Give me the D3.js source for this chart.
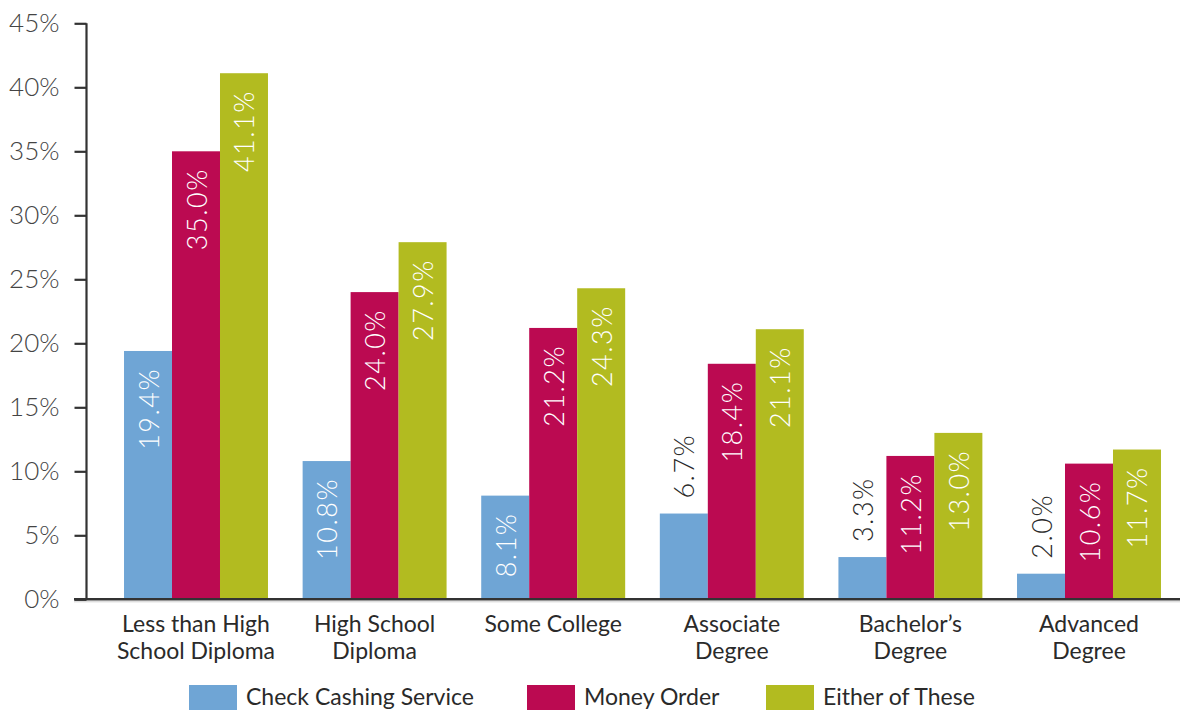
<!DOCTYPE html>
<html>
<head>
<meta charset="utf-8">
<script src="https://cdn.jsdelivr.net/npm/d3@7"></script>
<style>
  html, body { margin: 0; padding: 0; background: #fff; }
  svg { display: block; font-family: Lato, "Open Sans", sans-serif; }
</style>
</head>
<body>
<svg id="chart" width="1180" height="710"></svg>
<script>
// Education level groups (each entry is the list of label lines)
const categories = [
  ["Less than High", "School Diploma"],
  ["High School", "Diploma"],
  ["Some College"],
  ["Associate", "Degree"],
  ["Bachelor\u2019s", "Degree"],
  ["Advanced", "Degree"]
];
const seriesNames = ["Check Cashing Service", "Money Order", "Either of These"];
const checkCashing = [19.4, 10.8, 8.1, 6.7, 3.3, 2.0];
const moneyOrder   = [35.0, 24.0, 21.2, 18.4, 11.2, 10.6];
const eitherOfThese = [41.1, 27.9, 24.3, 21.1, 13.0, 11.7];
const yTicks = [0, 5, 10, 15, 20, 25, 30, 35, 40, 45];
const colors = ["#6fa5d5", "#bb0a51", "#b2bb20"];

const series = [checkCashing, moneyOrder, eitherOfThese];
const svg = d3.select("#chart");

const y = d3.scaleLinear().domain([0, 45]).range([599.3, 23.3]);
const keys = categories.map(c => c.join(" "));
const x0 = d3.scaleBand().domain(keys).range([106.7, 1178.3])
  .paddingInner(0.194).paddingOuter(0.097);
const x1 = d3.scaleBand().domain(d3.range(series.length)).range([0, x0.bandwidth()]);

// Bars with rotated value labels
const groups = svg.append("g").selectAll("g").data(keys).join("g")
  .attr("transform", d => `translate(${x0(d)},0)`);

groups.each(function(key, i) {
  const g = d3.select(this);
  series.forEach((vals, s) => {
    const v = vals[i];
    g.append("rect")
      .attr("x", x1(s))
      .attr("y", y(v))
      .attr("width", x1.bandwidth())
      .attr("height", y(0) - y(v))
      .attr("fill", colors[s]);
    const inside = v >= 7.5;
    const cx = x1(s) + x1.bandwidth() / 2;
    const ty = inside ? y(v) + 17 : y(v) - 15;
    g.append("text")
      .attr("transform", `translate(${cx},${ty}) rotate(-90)`)
      .attr("text-anchor", inside ? "end" : "start")
      .attr("dominant-baseline", "central")
      .attr("font-size", 27)
      .attr("font-weight", 300)
      .attr("letter-spacing", 1.5)
      .attr("fill", inside ? "#ffffff" : "#2a2a2a")
      .text(v.toFixed(1) + "%");
  });
});

// Y axis
const yAxis = d3.axisLeft(y).tickValues(yTicks).tickSize(12).tickPadding(15)
  .tickFormat(d => d + "%");
const yg = svg.append("g").attr("transform", "translate(86.5,0)").call(yAxis);
yg.select(".domain").attr("stroke", "#333").attr("stroke-width", 2.2)
  .attr("d", `M0,${y(45)}V${y(0)}`);
yg.selectAll(".tick line").attr("stroke", "#333").attr("stroke-width", 2.2);
yg.selectAll(".tick text").attr("font-size", 26).attr("fill", "#444")
  .attr("font-family", "Lato, sans-serif").attr("font-weight", 300);

// Baseline
svg.append("line")
  .attr("x1", 74).attr("x2", 1180)
  .attr("y1", y(0)).attr("y2", y(0))
  .attr("stroke", "#333").attr("stroke-width", 2.4);
svg.append("line")
  .attr("x1", 74).attr("x2", 1180)
  .attr("y1", y(0) + 2.5).attr("y2", y(0) + 2.5)
  .attr("stroke", "#d0d0d0").attr("stroke-width", 1);

// Category labels
const catLabels = svg.append("g").selectAll("text").data(categories).join("text")
  .attr("x", (d, i) => x0(keys[i]) + x0.bandwidth() / 2)
  .attr("y", 632)
  .attr("text-anchor", "middle")
  .attr("font-size", 23)
  .attr("fill", "#2a2a2a");
catLabels.selectAll("tspan").data(d => d).join("tspan")
  .attr("x", function() { return d3.select(this.parentNode).attr("x"); })
  .attr("dy", (d, j) => j === 0 ? 0 : 27)
  .text(d => d);

// Legend
const legendX = [189, 527, 766];
const legend = svg.append("g").selectAll("g").data(seriesNames).join("g")
  .attr("transform", (d, i) => `translate(${legendX[i]},685)`);
legend.append("rect").attr("width", 48).attr("height", 26)
  .attr("fill", (d, i) => colors[i]);
legend.append("text").attr("x", 57).attr("y", 19.5)
  .attr("font-size", 23).attr("fill", "#2a2a2a")
  .text(d => d);
</script>
</body>
</html>
